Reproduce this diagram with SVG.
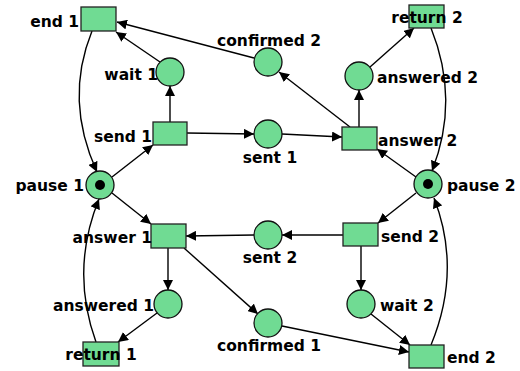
<svg xmlns="http://www.w3.org/2000/svg" width="520" height="371" viewBox="0 0 520 371">
  <defs>
    <marker id="arrow" markerUnits="userSpaceOnUse" markerWidth="11" markerHeight="10" refX="10" refY="5" orient="auto">
      <path d="M0,0 L10,5 L0,10 z" fill="#000"/>
    </marker>
    <style>
      .edge { fill: none; stroke: #000; stroke-width: 1.4; marker-end: url(#arrow); }
      .place { fill: #70db93; stroke: #111; stroke-width: 1.3; }
      .trans { fill: #70db93; stroke: #222; stroke-width: 1.3; }
      .token { fill: #000; }
      text { font-family: "DejaVu Sans", "Liberation Sans", sans-serif; font-weight: bold; font-size: 15.5px; fill: #000; }
      .l { text-anchor: end; }
      .c { text-anchor: middle; }
    </style>
  </defs>
  <rect width="520" height="371" fill="#fff"/>

  <g id="connectors">
    <path class="edge" d="M170,122 L170,86"/>
    <path class="edge" d="M160,62 L116,32"/>
    <path class="edge" d="M254,58 L117,22"/>
    <path class="edge" d="M92,31 Q64,100 97,172"/>
    <path class="edge" d="M112,177 L153,145"/>
    <path class="edge" d="M187,133 L254,134"/>
    <path class="edge" d="M282,134 L342,137"/>
    <path class="edge" d="M350,127 L279,72"/>
    <path class="edge" d="M359,127 L359,90"/>
    <path class="edge" d="M370,67 L414,28"/>
    <path class="edge" d="M431,28 Q460,100 432,171"/>
    <path class="edge" d="M416,177 L377,149"/>
    <path class="edge" d="M416,193 L378,223"/>
    <path class="edge" d="M343,235 L282,235"/>
    <path class="edge" d="M254,235 L186,236"/>
    <path class="edge" d="M112,193 L151,224"/>
    <path class="edge" d="M168,248 L168,290"/>
    <path class="edge" d="M184,248 L258,314"/>
    <path class="edge" d="M157,313 L118,342"/>
    <path class="edge" d="M96,342 Q70,270 99,199"/>
    <path class="edge" d="M361,246 L361,290"/>
    <path class="edge" d="M371,314 L410,345"/>
    <path class="edge" d="M282,326 L409,352"/>
    <path class="edge" d="M431,345 Q462,270 434,198"/>
  </g>

  <!-- places -->
  <g id="wait1"><circle class="place" cx="170" cy="72" r="14"/><text class="l" x="158" y="80">wait 1</text></g>
  <g id="confirmed2"><circle class="place" cx="268" cy="62" r="14"/><text class="c" x="269" y="46">confirmed 2</text></g>
  <g id="answered2"><circle class="place" cx="359" cy="76" r="14"/><text x="377" y="83">answered 2</text></g>
  <g id="sent1"><circle class="place" cx="268" cy="134" r="14"/><text class="c" x="270" y="163">sent 1</text></g>
  <g id="pause1"><circle class="place" cx="100" cy="185" r="14"/><circle class="token" cx="100" cy="185" r="5"/><text class="l" x="84" y="191">pause 1</text></g>
  <g id="pause2"><circle class="place" cx="428" cy="184" r="14"/><circle class="token" cx="428" cy="184" r="5"/><text x="447" y="191">pause 2</text></g>
  <g id="sent2"><circle class="place" cx="268" cy="235" r="14"/><text class="c" x="270" y="263">sent 2</text></g>
  <g id="answered1"><circle class="place" cx="168" cy="304" r="14"/><text class="l" x="154" y="311">answered 1</text></g>
  <g id="wait2"><circle class="place" cx="361" cy="304" r="14"/><text x="380" y="311">wait 2</text></g>
  <g id="confirmed1"><circle class="place" cx="268" cy="323" r="14"/><text class="c" x="269" y="351">confirmed 1</text></g>

  <!-- transitions -->
  <g id="end1"><rect class="trans" x="81" y="7" width="35" height="24"/><text class="l" x="79" y="27">end 1</text></g>
  <g id="send1"><rect class="trans" x="153" y="122" width="34" height="23"/><text class="l" x="152" y="142">send 1</text></g>
  <g id="return2"><rect class="trans" x="409" y="5" width="35" height="23"/><text class="c" x="427" y="23">return 2</text></g>
  <g id="answer2"><rect class="trans" x="342" y="127" width="35" height="23"/><text x="378" y="146">answer 2</text></g>
  <g id="answer1"><rect class="trans" x="151" y="224" width="35" height="24"/><text class="l" x="152" y="243">answer 1</text></g>
  <g id="return1"><rect class="trans" x="83" y="342" width="36" height="24"/><text class="c" x="101" y="360">return 1</text></g>
  <g id="send2"><rect class="trans" x="343" y="223" width="35" height="23"/><text x="381" y="242">send 2</text></g>
  <g id="end2"><rect class="trans" x="409" y="345" width="35" height="23"/><text x="447" y="363">end 2</text></g>
</svg>
